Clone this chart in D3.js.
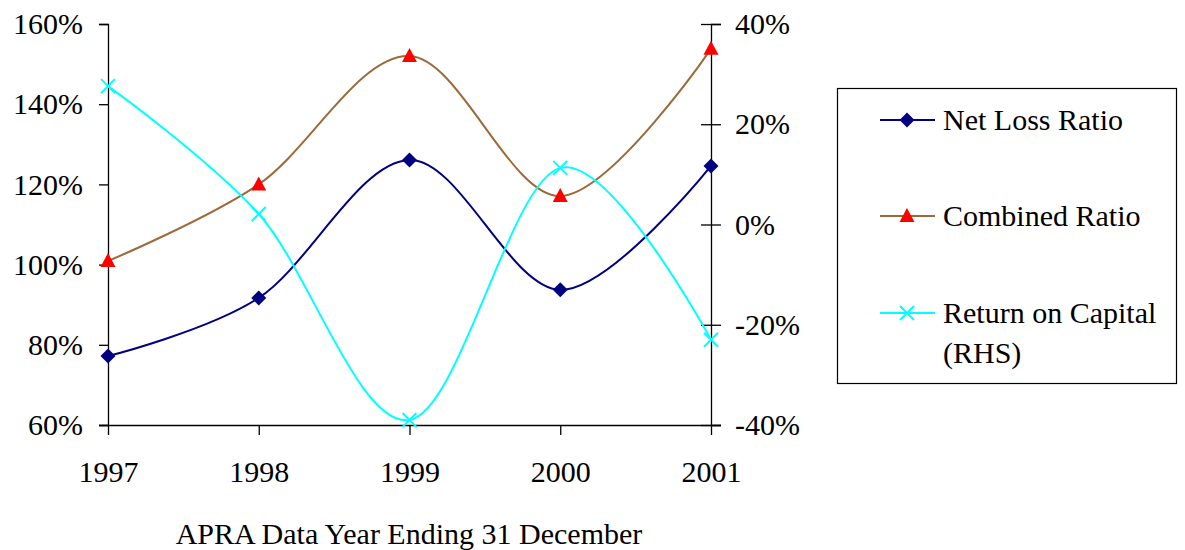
<!DOCTYPE html>
<html><head><meta charset="utf-8">
<script src="https://cdn.jsdelivr.net/npm/d3@7"></script>
<style>body{margin:0;background:#fff}svg{display:block}text{font-family:"Liberation Serif","Times New Roman",serif;fill:#000}</style>
</head><body>
<svg id="c" width="1185" height="550"></svg>
<script>
const years = ["1997","1998","1999","2000","2001"];
const netLossRatio = [77.2, 91.7, 126.1, 93.7, 124.6];
const combinedRatio = [100.9, 120.0, 152.0, 117.1, 153.8];
const returnOnCapital = [27.6, 2.1, -39.0, 11.3, -23.0];
const leftTicks = [60, 80, 100, 120, 140, 160];
const rightTicks = [-40, -20, 0, 20, 40];

const svg = d3.select("#c");
const x = d3.scalePoint().domain(years).range([108, 711]);
const yL = d3.scaleLinear().domain([60, 160]).range([425, 24]);
const yR = d3.scaleLinear().domain([-40, 40]).range([425, 24]);
const fs = 30;

// Axes
const axL = svg.append("g").attr("transform","translate(108,0)")
  .call(d3.axisLeft(yL).tickValues(leftTicks).tickSize(9).tickPadding(16).tickFormat(d=>d+"%"));
const axR = svg.append("g").attr("transform","translate(711,0)")
  .call(d3.axisRight(yR).tickValues(rightTicks).tickSize(10).tickPadding(14).tickFormat(d=>d+"%"));
axR.selectAll(".tick line").attr("x1",-10);
const axB = svg.append("g").attr("transform","translate(0,425)")
  .call(d3.axisBottom(x).tickSize(10).tickPadding(26));
[axL,axR,axB].forEach(a=>{
  a.select(".domain").attr("stroke","#000").attr("stroke-width",1.3);
  a.selectAll(".tick line").attr("stroke","#000").attr("stroke-width",1.3);
  a.selectAll(".tick text").attr("font-size",fs).attr("font-family","Liberation Serif");
});
axB.select(".domain").attr("d","M99,0.5H721");
axB.selectAll(".tick text").attr("dy","0.71em");

svg.append("text").attr("x",409).attr("y",544).attr("text-anchor","middle").attr("font-size",fs)
  .text("APRA Data Year Ending 31 December");

const curve = d3.curveCardinal.tension(0);
function series(vals, scale, color){
  const line = d3.line().x((d,i)=>x(years[i])).y(d=>scale(d)).curve(curve);
  svg.append("path").datum(vals).attr("d",line).attr("fill","none").attr("stroke",color).attr("stroke-width",2);
}
series(netLossRatio, yL, "#000080");
series(combinedRatio, yL, "#9C6A3A");
series(returnOnCapital, yR, "#00FFFF");

const diamond = "M0,-7.5L7.5,0L0,7.5L-7.5,0Z";
const tri = "M0,-8L7.5,6L-7.5,6Z";
const cross = "M-7,-7L7,7M-7,7L7,-7";
function markers(vals, scale, path, fill, stroke){
  svg.append("g").selectAll("path").data(vals).join("path")
    .attr("transform",(d,i)=>`translate(${x(years[i])},${scale(d)})`)
    .attr("d",path).attr("fill",fill).attr("stroke",stroke).attr("stroke-width",2);
}
markers(netLossRatio, yL, diamond, "#000080", "none");
markers(combinedRatio, yL, tri, "#FF0000", "none");
markers(returnOnCapital, yR, cross, "none", "#00FFFF");

// Legend
const lg = svg.append("g");
lg.append("rect").attr("x",837.5).attr("y",88.5).attr("width",339).attr("height",295)
  .attr("fill","none").attr("stroke","#000").attr("stroke-width",1.2);
const items = [
  {name:["Net Loss Ratio"], color:"#000080", path:diamond, fill:"#000080", stroke:"none", y:120},
  {name:["Combined Ratio"], color:"#9C6A3A", path:tri, fill:"#FF0000", stroke:"none", y:216},
  {name:["Return on Capital","(RHS)"], color:"#00FFFF", path:cross, fill:"none", stroke:"#00FFFF", y:313}
];
items.forEach(it=>{
  lg.append("line").attr("x1",880).attr("x2",935).attr("y1",it.y).attr("y2",it.y).attr("stroke",it.color).attr("stroke-width",2);
  lg.append("path").attr("transform",`translate(907,${it.y})`).attr("d",it.path).attr("fill",it.fill).attr("stroke",it.stroke).attr("stroke-width",2);
  it.name.forEach((t,j)=>{
    lg.append("text").attr("x",943).attr("y",it.y+10+j*40).attr("font-size",fs).text(t);
  });
});
</script>
</body></html>
